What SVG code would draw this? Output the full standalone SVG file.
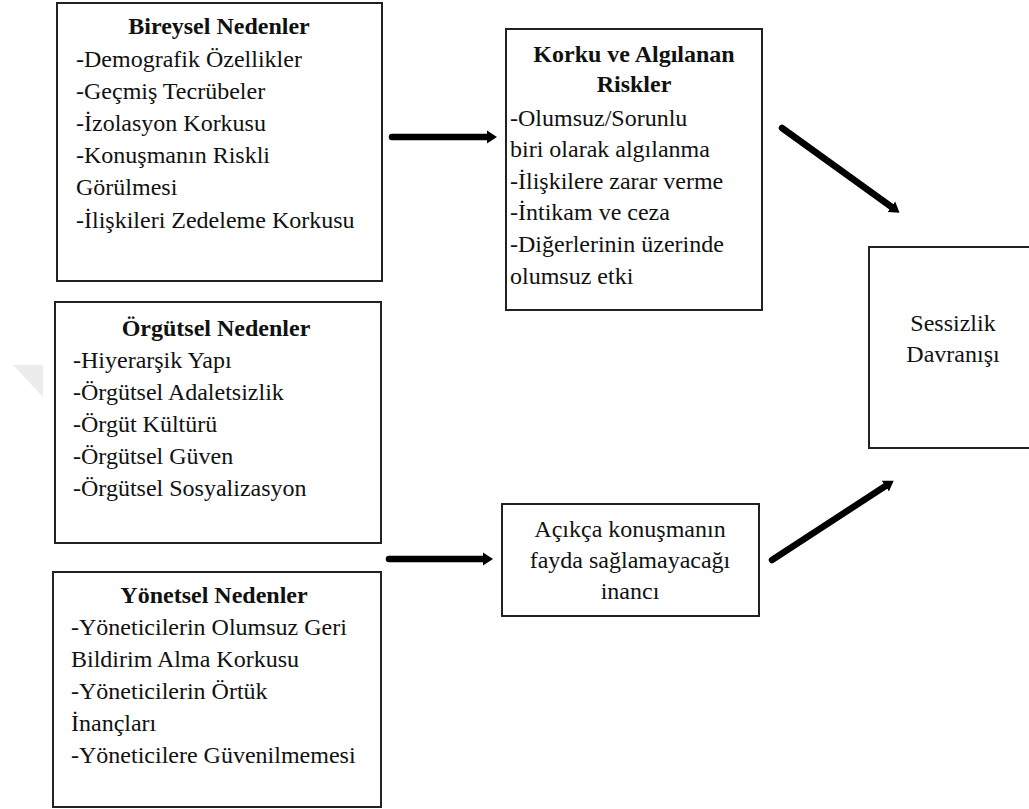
<svg xmlns="http://www.w3.org/2000/svg" width="1029" height="809" viewBox="0 0 1029 809">
  <style>
    .box { fill: #ffffff; stroke: #222222; stroke-width: 2; }
    .t { font-family: "Times New Roman", "Liberation Serif", serif; font-size: 24px; fill: #111111; font-weight: 400; }
    .b { font-weight: 700; }
    .c { text-anchor: middle; }
    .arrow { stroke: #000000; stroke-width: 6.5; fill: none; stroke-linecap: round; marker-end: url(#head); }
    .mark { fill: #ececec; }
  </style>
  <defs>
    <marker id="head" markerUnits="userSpaceOnUse" markerWidth="12" markerHeight="16" refX="2" refY="8" orient="auto">
      <path d="M0,1.5 L10,8 L0,14.5 Z" fill="#000000"/>
    </marker>
  </defs>
  <rect width="1029" height="809" fill="#ffffff"/>

  <!-- faint background mark at the left margin -->
  <polygon class="mark" points="13,365 43,365 43,397"/>

  <g id="bireysel">
    <rect class="box" x="57" y="3" width="325" height="278"/>
    <text class="t b c" x="219" y="34">Bireysel Nedenler</text>
    <text class="t" x="76" y="67">-Demografik Özellikler</text>
    <text class="t" x="76" y="99">-Geçmiş Tecrübeler</text>
    <text class="t" x="76" y="131">-İzolasyon Korkusu</text>
    <text class="t" x="76" y="163">-Konuşmanın Riskli</text>
    <text class="t" x="76" y="195">Görülmesi</text>
    <text class="t" x="76" y="228">-İlişkileri Zedeleme Korkusu</text>
  </g>

  <g id="orgutsel">
    <rect class="box" x="55" y="302" width="326" height="241"/>
    <text class="t b c" x="216" y="336">Örgütsel Nedenler</text>
    <text class="t" x="73" y="368">-Hiyerarşik Yapı</text>
    <text class="t" x="73" y="400">-Örgütsel Adaletsizlik</text>
    <text class="t" x="73" y="432">-Örgüt Kültürü</text>
    <text class="t" x="73" y="464">-Örgütsel Güven</text>
    <text class="t" x="73" y="496">-Örgütsel Sosyalizasyon</text>
  </g>

  <g id="yonetsel">
    <rect class="box" x="53" y="572" width="328" height="235"/>
    <text class="t b c" x="214" y="603">Yönetsel Nedenler</text>
    <text class="t" x="71" y="635">-Yöneticilerin Olumsuz Geri</text>
    <text class="t" x="71" y="667">Bildirim Alma Korkusu</text>
    <text class="t" x="71" y="699">-Yöneticilerin Örtük</text>
    <text class="t" x="71" y="731">İnançları</text>
    <text class="t" x="71" y="763">-Yöneticilere Güvenilmemesi</text>
  </g>

  <g id="korku">
    <rect class="box" x="506" y="29" width="256" height="281"/>
    <text class="t b c" x="634" y="62">Korku ve Algılanan</text>
    <text class="t b c" x="634" y="92">Riskler</text>
    <text class="t" x="510" y="126">-Olumsuz/Sorunlu</text>
    <text class="t" x="510" y="157">biri olarak algılanma</text>
    <text class="t" x="510" y="189">-İlişkilere zarar verme</text>
    <text class="t" x="510" y="220">-İntikam ve ceza</text>
    <text class="t" x="510" y="252">-Diğerlerinin üzerinde</text>
    <text class="t" x="510" y="284">olumsuz etki</text>
  </g>

  <g id="inanc">
    <rect class="box" x="502" y="504" width="257" height="112"/>
    <text class="t c" x="630" y="537">Açıkça konuşmanın</text>
    <text class="t c" x="630" y="568">fayda sağlamayacağı</text>
    <text class="t c" x="630" y="599">inancı</text>
  </g>

  <g id="sessizlik">
    <rect class="box" x="869" y="247" width="170" height="201"/>
    <text class="t c" x="953" y="331">Sessizlik</text>
    <text class="t c" x="953" y="362">Davranışı</text>
  </g>

  <g id="connectors">
    <line class="arrow" x1="392" y1="137" x2="489" y2="137"/>
    <line class="arrow" x1="389" y1="559" x2="485" y2="559"/>
    <line class="arrow" x1="782" y1="128" x2="893" y2="208"/>
    <line class="arrow" x1="772" y1="560" x2="887" y2="485"/>
  </g>
</svg>
